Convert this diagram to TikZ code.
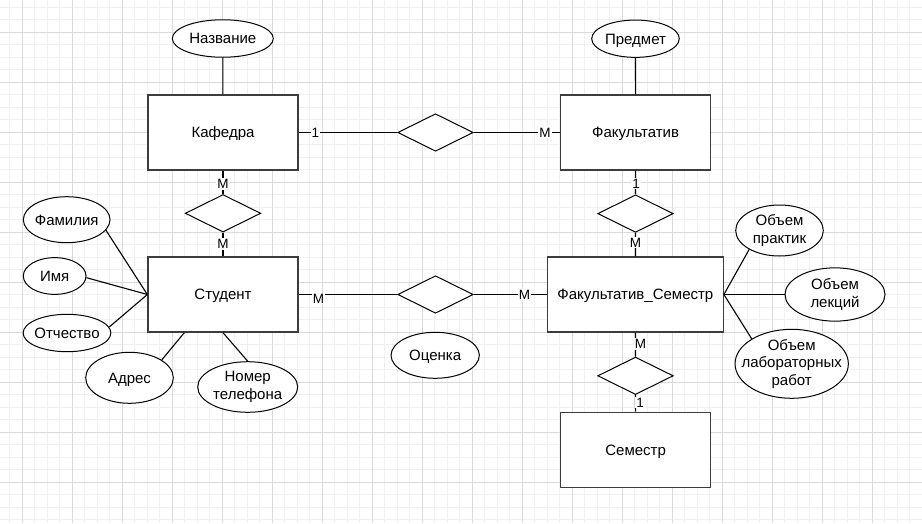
\documentclass[tikz,border=0pt]{standalone}
\usepackage{fontspec}
\setmainfont{Liberation Sans}
\usetikzlibrary{shapes.geometric}
\definecolor{gridminor}{HTML}{F0F0F0}
\definecolor{gridmajor}{HTML}{DADADA}
\definecolor{boxline}{HTML}{3C3C3C}
\begin{document}
\begin{tikzpicture}[x=1pt,y=-1pt,
  every node/.style={font=\fontsize{15}{17.5}\selectfont, text=black},
  oneline/.style={text height=10.7pt, text depth=0pt},
  entity/.style={rectangle, draw=boxline, line width=1.3pt, fill=white,
    minimum width=150pt, minimum height=75pt, inner sep=0pt, oneline},
  % the ellipse keeps its given size; its text is set as a centred label
  attr/.style 2 args={ellipse, draw=black, line width=1pt, fill=white,
    inner sep=0pt, minimum width=#1, minimum height=#2},
  atext/.style={label={[align=center, inner sep=0pt]center:#1}},
  atext1/.style={label={[oneline, inner sep=0pt]center:#1}},
  rel/.style={diamond, draw=black, line width=1pt, fill=white,
    minimum width=75.5pt, minimum height=37.5pt, inner sep=0pt},
  link/.style={draw=black, line width=1.1pt},
  card/.style={fill=white, inner sep=1pt, font=\fontsize{13.5}{15}\selectfont,
    text height=9.7pt, text depth=0pt}]

% page and background grid
\useasboundingbox (0,0) rectangle (922,523);
\fill[white] (0,0) rectangle (922,523);
\foreach \i in {0,...,73}
  \draw[gridminor, line width=1pt] ({9.8+12.5*\i},0) -- ({9.8+12.5*\i},523);
\foreach \j in {0,...,41}
  \draw[gridminor, line width=1pt] (0,{7.3+12.5*\j}) -- (922,{7.3+12.5*\j});
\foreach \i in {0,...,17}
  \draw[gridmajor, line width=1pt] ({22.3+50*\i},0) -- ({22.3+50*\i},523);
\foreach \j in {0,...,9}
  \draw[gridmajor, line width=1pt] (0,{32.3+50*\j}) -- (922,{32.3+50*\j});

% entities
\node[entity] (kaf) at (223,132.5) {Кафедра};
\node[entity] (fak) at (635.6,132.5) {Факультатив};
\node[entity] (stud) at (223,294.5) {Студент};
\node[entity, minimum width=175.7pt] (fs) at (635.4,294.5) {Факультатив\_Семестр};
\node[entity] (sem) at (635.6,449.8) {Семестр};

% relationships
\node[rel] (d1) at (435.5,132.5) {};
\node[rel] (d2) at (223,213.3) {};
\node[rel] (d3) at (435.5,294.5) {};
\node[rel] (d4) at (635.5,213.6) {};
\node[rel] (d5) at (635.5,375.8) {};

% attributes
\node[attr={101pt}{37.5pt}, atext1=Название] (nazv) at (222.8,38.5) {};
\node[attr={87.6pt}{37.3pt}, atext1=Предмет] (pred) at (635.5,38.7) {};
\node[attr={86.7pt}{46pt}, atext1=Фамилия] (fam) at (66.7,219.7) {};
\node[attr={62.7pt}{36.7pt}, atext1=Имя] (imya) at (54.7,276) {};
\node[attr={87.7pt}{37.4pt}, atext1=Отчество] (otch) at (67,333) {};
\node[attr={87.6pt}{51pt}, atext1=Адрес] (adr) at (129.5,377.8) {};
\node[attr={100pt}{50.6pt}, atext={Номер\\телефона}] (nomer) at (247.7,387) {};
\node[attr={88.3pt}{46pt}, atext1=Оценка] (ocen) at (435.2,355.3) {};
\node[attr={87.6pt}{51pt}, atext={Объем\\практик}] (prak) at (779.5,230.5) {};
\node[attr={100pt}{53.3pt}, atext={Объем\\лекций}] (lek) at (835,294.5) {};
\node[attr={113.3pt}{69pt}, atext={Объем\\лабораторных\\работ}] (lab) at (791.7,363.8) {};

% relationship links
\draw[link] (kaf) -- (d1) -- (fak);
\draw[link] (kaf) -- (d2) -- (stud);
\draw[link] (stud) -- (d3) -- (fs);
\draw[link] (fak) -- (d4) -- (fs);
\draw[link] (fs) -- (d5) -- (sem);

% attribute links
\coordinate (studA) at ([xshift=37pt]stud.south west);
\draw[link] (nazv) -- (kaf);
\draw[link] (pred) -- (fak);
\draw[link] (fam.-15) -- (stud.west);
\draw[link] (imya.-3) -- (stud.west);
\draw[link] (otch.8) -- (stud.west);
\draw[link] (adr.29) -- (studA);
\draw[link] (nomer.north) -- (stud.south);
\draw[link] (prak.212) -- (fs.east);
\draw[link] (lek.west) -- (fs.east);
\draw[link] (lab.148) -- (fs.east);

% cardinalities
\node[card] (c1) at (315.3,132.8) {1};
\node[card] (c2) at (545,132.5) {M};
\node[card] (c3) at (223,184) {M};
\node[card] (c4) at (223,244) {M};
\node[card] (c5) at (318.5,298.5) {M};
\node[card] (c6) at (524.5,294.5) {M};
\node[card] (c7) at (636,183.5) {1};
\node[card] (c8) at (635.5,242.5) {M};
\node[card] (c9) at (640.5,344) {M};
\node[card] (c10) at (640,402.5) {1};
\end{tikzpicture}
\end{document}
